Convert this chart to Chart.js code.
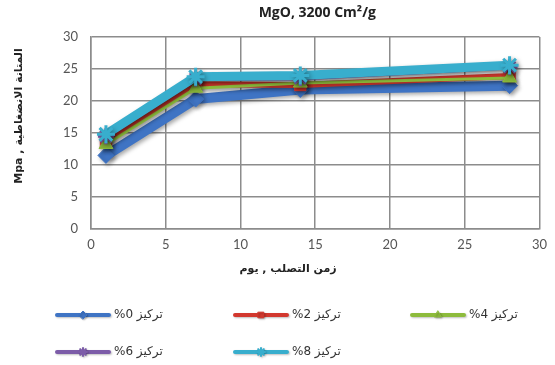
<!DOCTYPE html>
<html>
<head>
<meta charset="utf-8">
<script src="https://cdn.jsdelivr.net/npm/chart.js@4.4.1/dist/chart.umd.min.js"></script>
<style>
  html, body { margin: 0; padding: 0; background: #fff; }
  #wrap { width: 555px; height: 365px; position: relative; }
</style>
</head>
<body>
<div id="wrap"><canvas id="c" width="555" height="365"></canvas></div>
<script>
// Curing age (days) and compressive strength (MPa) per MgO concentration
const days = [1, 7, 14, 28];
const conc0 = [11.5, 20.3, 21.8, 22.4];
const conc2 = [13.6, 22.6, 22.5, 23.9];
const conc4 = [13.2, 22.0, 22.8, 23.6];
const conc6 = [14.5, 23.5, 23.6, 25.3];
const conc8 = [14.8, 23.8, 24.0, 25.6];

const seriesLabels = ['%0 تركيز', '%2 تركيز', '%4 تركيز', '%6 تركيز', '%8 تركيز'];
const xTicks = [0, 5, 10, 15, 20, 25, 30];
const yTicks = [0, 5, 10, 15, 20, 25, 30];

const chartTitle = 'MgO, 3200 Cm²/g';
const xTitle = 'زمن التصلب , يوم';
const yTitle = 'المتانة الانضغاطية , Mpa';

const colors = ['#3F74C4', '#D2382E', '#8DBB3C', '#7C5CA8', '#38AECD'];
const widths = [10, 6, 3, 5, 9];
const markers = ['rectRot', 'rect', 'triangle', 'star', 'star'];
const markerRadius = [8, 8, 8, 8, 9];

const allValues = [conc0, conc2, conc4, conc6, conc8];

const datasets = allValues.map((vals, i) => ({
  label: seriesLabels[i],
  data: days.map((d, k) => ({ x: d, y: vals[k] })),
  borderColor: colors[i],
  backgroundColor: colors[i],
  borderWidth: widths[i],
  pointStyle: markers[i],
  pointRadius: markerRadius[i],
  pointBorderWidth: markers[i] === 'star' ? 3 : 1,
  pointBorderColor: colors[i],
  pointBackgroundColor: colors[i],
  tension: 0,
  // later series are painted on top
  order: allValues.length - i
}));

// Soft drop shadow under the series lines
const shadowPlugin = {
  id: 'lineShadow',
  beforeDatasetsDraw(chart) {
    const ctx = chart.ctx;
    ctx.save();
    ctx.shadowColor = 'rgba(0,0,0,0.35)';
    ctx.shadowBlur = 4;
    ctx.shadowOffsetX = 2;
    ctx.shadowOffsetY = 2;
  },
  afterDatasetsDraw(chart) {
    chart.ctx.restore();
  }
};

// Titles and a three-column legend drawn onto the canvas
const decorPlugin = {
  id: 'decor',
  afterDraw(chart) {
    const ctx = chart.ctx;
    const area = chart.chartArea;
    ctx.save();

    // main title
    ctx.fillStyle = '#222';
    ctx.font = 'bold 14px "Open Sans", "DejaVu Sans", sans-serif';
    ctx.textAlign = 'center';
    ctx.textBaseline = 'middle';
    ctx.fillText(chartTitle, (area.left + area.right) / 2 + 2, 13);

    // x axis title
    ctx.direction = 'rtl';
    ctx.font = 'bold 11px "DejaVu Sans", sans-serif';
    ctx.textAlign = 'center';
    ctx.fillText(xTitle, 288, 269);

    // y axis title
    ctx.save();
    ctx.translate(19, 116);
    ctx.rotate(-Math.PI / 2);
    ctx.fillText(yTitle, 0, 0);
    ctx.restore();

    // legend
    const colX = [57, 235, 412];
    const rowY = [315, 352];
    chart.data.datasets.forEach((ds, i) => {
      const x0 = colX[i % 3];
      const y0 = rowY[Math.floor(i / 3)];
      ctx.save();
      ctx.shadowColor = 'rgba(0,0,0,0.25)';
      ctx.shadowBlur = 2;
      ctx.shadowOffsetX = 1;
      ctx.shadowOffsetY = 1;
      ctx.strokeStyle = ds.borderColor;
      ctx.fillStyle = ds.borderColor;
      ctx.lineWidth = 4;
      ctx.lineCap = 'round';
      ctx.beginPath();
      ctx.moveTo(x0, y0);
      ctx.lineTo(x0 + 52, y0);
      ctx.stroke();
      ctx.lineWidth = ds.pointStyle === 'star' ? 2 : 1;
      Chart.helpers.drawPoint(ctx, {
        pointStyle: ds.pointStyle,
        radius: 4,
        borderWidth: ctx.lineWidth,
        rotation: 0
      }, x0 + 26, y0);
      ctx.restore();

      ctx.save();
      ctx.direction = 'ltr';
      ctx.fillStyle = '#333';
      ctx.font = '12px "DejaVu Sans", sans-serif';
      ctx.textAlign = 'left';
      ctx.textBaseline = 'middle';
      ctx.fillText(ds.label, x0 + 57, y0);
      ctx.restore();
    });
    ctx.restore();
  }
};

new Chart(document.getElementById('c'), {
  type: 'line',
  data: { datasets },
  plugins: [shadowPlugin, decorPlugin],
  options: {
    responsive: false,
    animation: false,
    layout: { padding: { left: 61, right: 15, top: 37, bottom: 106 } },
    plugins: {
      legend: { display: false },
      title: { display: false },
      tooltip: { enabled: false }
    },
    scales: {
      x: {
        type: 'linear',
        min: 0,
        max: 30,
        afterBuildTicks(scale) { scale.ticks = xTicks.map(v => ({ value: v })); },
        afterFit(scale) { scale.height = 30; },
        grid: { color: '#8c8c8c', lineWidth: 1.5, drawTicks: false },
        border: { color: '#8c8c8c', width: 1.5 },
        ticks: {
          padding: 8,
          color: '#555',
          font: { family: 'Lato, "Open Sans", sans-serif', size: 13 }
        }
      },
      y: {
        type: 'linear',
        min: 0,
        max: 30,
        afterBuildTicks(scale) { scale.ticks = yTicks.map(v => ({ value: v })); },
        afterFit(scale) { scale.width = 30; },
        grid: { color: '#8c8c8c', lineWidth: 1.5, drawTicks: false },
        border: { color: '#8c8c8c', width: 1.5 },
        ticks: {
          padding: 13,
          color: '#555',
          font: { family: 'Lato, "Open Sans", sans-serif', size: 13 }
        }
      }
    }
  }
});
</script>
</body>
</html>
